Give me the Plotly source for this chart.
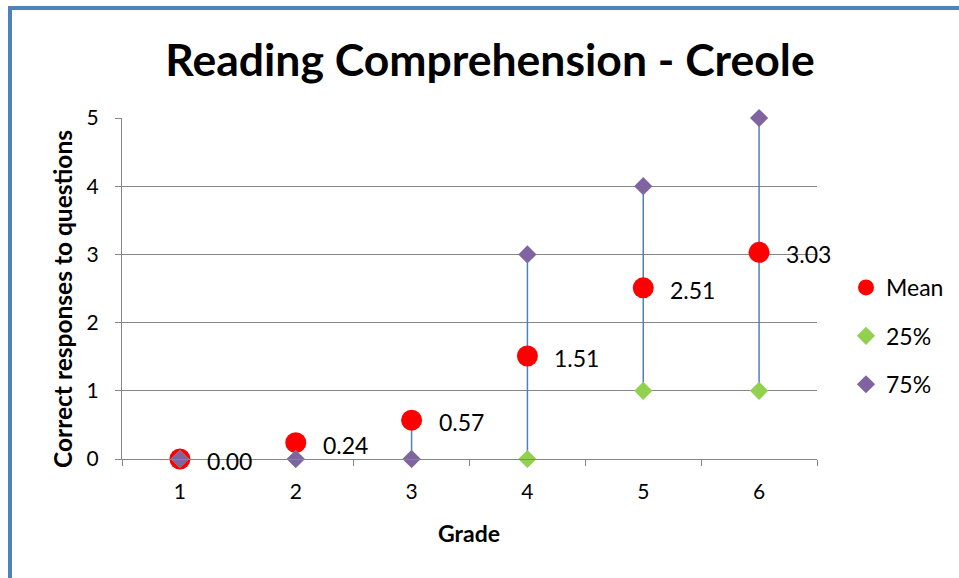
import plotly.graph_objects as go

# Reading comprehension scores by grade
grades = [1, 2, 3, 4, 5, 6]
grade_labels = ["1", "2", "3", "4", "5", "6"]
mean_scores = [0.00, 0.24, 0.57, 1.51, 2.51, 3.03]
p25_scores = [0, 0, 0, 0, 1, 1]
p75_scores = [0, 0, 0, 3, 4, 5]
y_ticks = [0, 1, 2, 3, 4, 5]

FONT = "Lato"
W, H = 959, 578
L, R, T, B = 122, 142, 118, 119

fig = go.Figure()

# High-low lines spanning the min and max of all series per grade
lx, ly = [], []
for g, m, a, b in zip(grades, mean_scores, p25_scores, p75_scores):
    vals = [m, a, b]
    lx += [g, g, None]
    ly += [min(vals), max(vals), None]
fig.add_trace(go.Scatter(x=lx, y=ly, mode="lines", line=dict(color="#4F81BD", width=1.5),
                         showlegend=False, hoverinfo="skip", cliponaxis=False))

fig.add_trace(go.Scatter(x=grades, y=mean_scores, mode="markers", name="Mean",
                         legendgroup="a", cliponaxis=False,
                         marker=dict(symbol="circle", size=21, color="#FF0000")))
fig.add_trace(go.Scatter(x=grades, y=p25_scores, mode="markers", name="25%",
                         legendgroup="b", cliponaxis=False,
                         marker=dict(symbol="diamond", size=14, color="#92D050")))
fig.add_trace(go.Scatter(x=grades, y=p75_scores, mode="markers", name="75%",
                         legendgroup="c", cliponaxis=False,
                         marker=dict(symbol="diamond", size=14, color="#8064A2")))

annotations = []
for g, m in zip(grades, mean_scores):
    annotations.append(dict(x=g, y=m, xref="x", yref="y", text=f"{m:.2f}",
                            showarrow=False, xanchor="left", yanchor="middle",
                            xshift=25, yshift=-2,
                            font=dict(family=FONT, size=23, color="#000000")))

pw, ph = W - L - R, H - T - B

# Axis titles
annotations.append(dict(x=(469 - L) / pw, y=(H - B - 533) / ph,
                        xref="paper", yref="paper", text="<b>Grade</b>", showarrow=False,
                        xanchor="center", yanchor="middle",
                        font=dict(family=FONT, size=23, color="#000000")))
annotations.append(dict(x=(62 - L) / pw, y=(H - B - 299) / ph,
                        xref="paper", yref="paper", text="<b>Correct responses to questions</b>",
                        showarrow=False, textangle=-90, xanchor="center", yanchor="middle",
                        font=dict(family=FONT, size=24.5, color="#000000")))

shapes = [
    # frame along the left and top edges
    dict(type="line", xref="paper", yref="paper",
         x0=(10 - L) / pw, x1=(10 - L) / pw, y0=(H - B - 6) / ph, y1=(H - B - 600) / ph,
         line=dict(color="#4F81BD", width=4)),
    dict(type="line", xref="paper", yref="paper",
         x0=(8 - L) / pw, x1=(1000 - L) / pw, y0=(H - B - 8) / ph, y1=(H - B - 8) / ph,
         line=dict(color="#4F81BD", width=4)),
]

fig.update_layout(
    width=W, height=H,
    margin=dict(l=L, r=R, t=T, b=B, autoexpand=False),
    paper_bgcolor="white", plot_bgcolor="white",
    title=dict(text="<b>Reading Comprehension - Creole</b>", x=490 / W, xanchor="center",
               y=1 - 60 / H, yanchor="middle", xref="container", yref="container",
               font=dict(family=FONT, size=44.5, color="#000000")),
    xaxis=dict(range=[0.5, 6.5], tickvals=grades, ticktext=grade_labels, ticks="",
               showgrid=False, zeroline=False, showline=True, linecolor="#868686", linewidth=1.3,
               tickfont=dict(family=FONT, size=21, color="#000000"),
               ticklabelstandoff=14,
               minor=dict(tickvals=[0.5, 1.5, 2.5, 3.5, 4.5, 5.5, 6.5], ticks="outside",
                          ticklen=6, tickcolor="#868686", showgrid=False)),
    yaxis=dict(range=[0, 5], tickvals=y_ticks, ticks="outside", ticklen=6, tickcolor="#868686",
               showgrid=True, gridcolor="#868686", gridwidth=1.3, zeroline=False,
               showline=True, linecolor="#868686", linewidth=1.3,
               tickfont=dict(family=FONT, size=21, color="#000000"), ticklabelstandoff=12),
    legend=dict(x=(846 - L) / pw, y=(H - B - 266) / ph, xanchor="left", yanchor="top",
                font=dict(family=FONT, size=23, color="#000000"), tracegroupgap=15.5,
                traceorder="grouped", itemwidth=30, bgcolor="rgba(0,0,0,0)"),
    annotations=annotations,
    shapes=shapes,
)

fig.write_html("out.html")
